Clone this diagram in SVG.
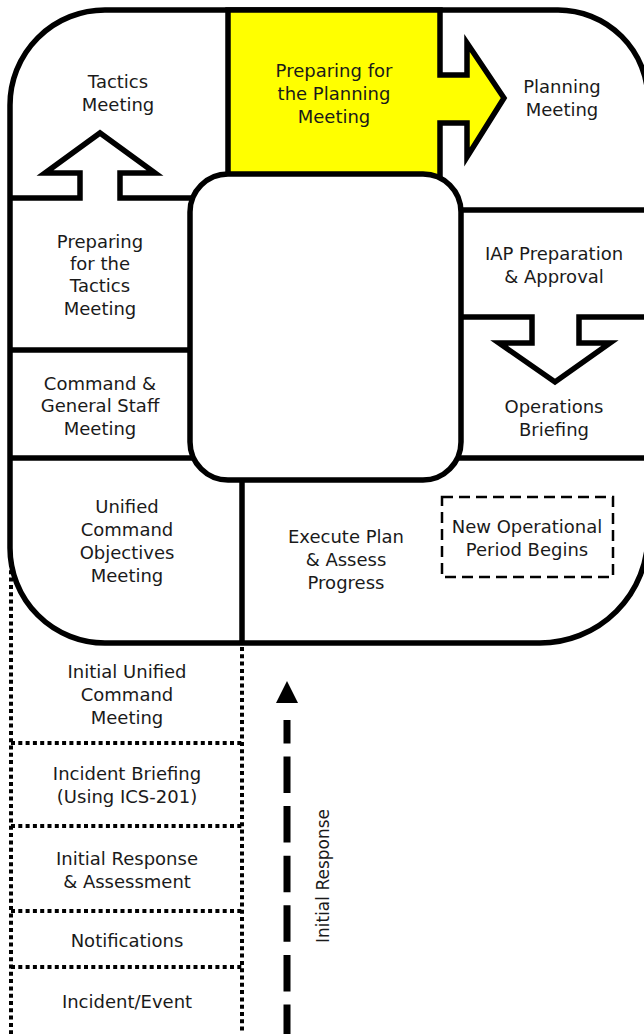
<svg xmlns="http://www.w3.org/2000/svg" width="644" height="1034" viewBox="0 0 644 1034">
  <style>
    .frame { fill: none; stroke: #000; stroke-width: 5.5; stroke-linejoin: miter; }
    .dots { fill: none; stroke: #000; stroke-width: 4; stroke-dasharray: 4 3.3; }
    .lbl { font-family: "DejaVu Sans", "Liberation Sans", sans-serif; font-size: 18px; fill: #1a1a1a; text-anchor: middle; }
  </style>

  <rect width="644" height="1034" fill="#fff"/>

  <!-- outer rounded cycle -->
  <g id="cycle-outline">
    <path d="M105 10 H558 A90 90 0 0 1 648 100 V535 A108 108 0 0 1 540 643 H105 A95 95 0 0 1 10 548 V105 A95 95 0 0 1 105 10 Z" fill="#fff" stroke="#000" stroke-width="5.5"/>
  </g>

  <!-- highlighted step with arrow to the right -->
  <g id="prep-planning">
    <path d="M228 10 H440 V75 H467 V43 L504 98 L467 157 V123 H440 V178 H228 Z" fill="#ffff00" stroke="#000" stroke-width="5.5" stroke-linejoin="miter"/>
    <text class="lbl" x="334" y="77">Preparing for</text>
    <text class="lbl" x="334" y="100">the Planning</text>
    <text class="lbl" x="334" y="123">Meeting</text>
  </g>

  <!-- dividers and block arrows inside the cycle -->
  <g id="connectors">
    <path class="frame" d="M10 198 H80 V173 H45 L100 133 L155 173 H120 V198 H196"/>
    <path class="frame" d="M455 317 H532 V343 H499 L555 382 L610 343 H579 V317 H650"/>
    <path class="frame" d="M10 350 H196"/>
    <path class="frame" d="M10 458 H200"/>
    <path class="frame" d="M455 210 H650"/>
    <path class="frame" d="M450 458 H650"/>
    <path class="frame" d="M242 470 V643"/>
    <!-- initial response arrow -->
    <polygon points="287,681 298,703 276,703" fill="#000"/>
    <path d="M287 1041 V720" fill="none" stroke="#000" stroke-width="7" stroke-dasharray="36.5 13.1"/>
  </g>

  <!-- central hub -->
  <g id="hub">
    <rect x="190" y="174" width="271" height="306" rx="38" ry="38" fill="#fff" stroke="#000" stroke-width="5.5"/>
  </g>

  <g id="tactics-meeting">
    <text class="lbl" x="118" y="88">Tactics</text>
    <text class="lbl" x="118" y="111">Meeting</text>
  </g>

  <g id="planning-meeting">
    <text class="lbl" x="562" y="93">Planning</text>
    <text class="lbl" x="562" y="116">Meeting</text>
  </g>

  <g id="prep-tactics">
    <text class="lbl" x="100" y="248">Preparing</text>
    <text class="lbl" x="100" y="270">for the</text>
    <text class="lbl" x="100" y="292">Tactics</text>
    <text class="lbl" x="100" y="315">Meeting</text>
  </g>

  <g id="cgs-meeting">
    <text class="lbl" x="100" y="390">Command &amp;</text>
    <text class="lbl" x="100" y="412">General Staff</text>
    <text class="lbl" x="100" y="435">Meeting</text>
  </g>

  <g id="iap-prep">
    <text class="lbl" x="554" y="260">IAP Preparation</text>
    <text class="lbl" x="554" y="283">&amp; Approval</text>
  </g>

  <g id="ops-briefing">
    <text class="lbl" x="554" y="413">Operations</text>
    <text class="lbl" x="554" y="436">Briefing</text>
  </g>

  <g id="uc-objectives">
    <text class="lbl" x="127" y="513">Unified</text>
    <text class="lbl" x="127" y="536">Command</text>
    <text class="lbl" x="127" y="559">Objectives</text>
    <text class="lbl" x="127" y="582">Meeting</text>
  </g>

  <g id="execute-plan">
    <text class="lbl" x="346" y="543">Execute Plan</text>
    <text class="lbl" x="346" y="566">&amp; Assess</text>
    <text class="lbl" x="346" y="589">Progress</text>
  </g>

  <g id="new-period">
    <rect x="442" y="497" width="171" height="80" fill="none" stroke="#000" stroke-width="2.5" stroke-dasharray="11 6"/>
    <text class="lbl" x="527" y="533">New Operational</text>
    <text class="lbl" x="527" y="556">Period Begins</text>
  </g>

  <!-- initial response stack -->
  <g id="initial-stack">
    <path class="dots" d="M11 563 V1034"/>
    <path class="dots" d="M242 647 V1034"/>
    <path class="dots" d="M11 743 H242"/>
    <path class="dots" d="M11 826 H242"/>
    <path class="dots" d="M11 911 H242"/>
    <path class="dots" d="M11 967 H242"/>
  </g>

  <g id="initial-uc">
    <text class="lbl" x="127" y="678">Initial Unified</text>
    <text class="lbl" x="127" y="701">Command</text>
    <text class="lbl" x="127" y="724">Meeting</text>
  </g>

  <g id="incident-briefing">
    <text class="lbl" x="127" y="780">Incident Briefing</text>
    <text class="lbl" x="127" y="803">(Using ICS-201)</text>
  </g>

  <g id="initial-response-step">
    <text class="lbl" x="127" y="865">Initial Response</text>
    <text class="lbl" x="127" y="888">&amp; Assessment</text>
  </g>

  <g id="notifications">
    <text class="lbl" x="127" y="947">Notifications</text>
  </g>

  <g id="incident-event">
    <text class="lbl" x="127" y="1008">Incident/Event</text>
  </g>

  <g id="initial-response-label">
    <text class="lbl" style="font-size:17px" transform="translate(329,876) rotate(-90)">Initial Response</text>
  </g>
</svg>
